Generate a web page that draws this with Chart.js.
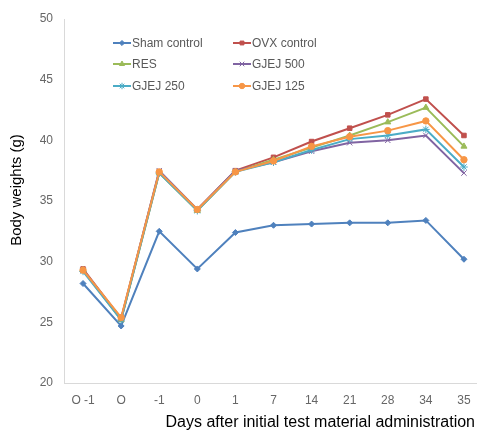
<!DOCTYPE html>
<html><head><meta charset="utf-8">
<script src="https://cdn.jsdelivr.net/npm/chart.js@4"></script>
<style>html,body{margin:0;padding:0;overflow:hidden;background:#fff}#wrap{width:488px;height:435px}</style>
</head><body><div id="wrap"><canvas id="c" width="488" height="435"></canvas></div>
<script>
const categories = ['O -1','O','-1','0','1','7','14','21','28','34','35'];
const shamControl = [28.2,24.7,32.5,29.4,32.4,33.0,33.1,33.2,33.2,33.4,30.2];
const ovxControl  = [29.4,25.3,37.4,34.3,37.5,38.6,39.9,41.0,42.1,43.4,40.4];
const resGroup    = [29.3,25.2,37.3,34.2,37.4,38.4,39.4,40.4,41.5,42.7,39.5];
const gjej500     = [29.3,25.3,37.5,34.3,37.5,38.2,39.1,39.8,40.0,40.4,37.3];
const gjej250     = [29.2,25.2,37.3,34.2,37.4,38.2,39.2,40.1,40.4,40.9,37.8];
const gjej125     = [29.3,25.4,37.4,34.3,37.4,38.3,39.5,40.3,40.8,41.6,38.4];
const yTicks = [20,25,30,35,40,45,50];
const seriesLabels = ['Sham control','OVX control','RES','GJEJ 500','GJEJ 250','GJEJ 125'];
const xTitle = 'Days after initial test material administration';
const yTitle = 'Body weights (g)';

const FONT = 'Liberation Sans';
const styles = [
  {color:'#4F81BD', ps:'rectRot', r:3, order:5},
  {color:'#C0504D', ps:'rect', r:3.2, order:4},
  {color:'#9BBB59', ps:'triangle', r:3.5, order:3},
  {color:'#8064A2', ps:'crossRot', r:3.8, order:2},
  {color:'#4BACC6', ps:'star', r:3.8, order:1},
  {color:'#F79646', ps:'circle', r:3.2, order:0}
];
const seriesData = [shamControl, ovxControl, resGroup, gjej500, gjej250, gjej125];

const datasets = seriesData.map((d,i)=>({
  label: seriesLabels[i], data: d,
  borderColor: styles[i].color, backgroundColor: styles[i].color,
  pointBackgroundColor: styles[i].color, pointBorderColor: styles[i].color,
  pointStyle: styles[i].ps, pointRadius: styles[i].r, pointBorderWidth: 1,
  borderWidth: 2, tension: 0, order: styles[i].order
}));

const customDraw = {
  id:'customDraw',
  afterDraw(chart){
    const ctx = chart.ctx;
    ctx.save();
    ctx.font = '12px "'+FONT+'"';
    ctx.textBaseline = 'middle';
    ctx.textAlign = 'left';
    const colX = [113, 233];
    const rowY = [43, 64, 86];
    chart.data.datasets.forEach((ds,i)=>{
      const x0 = colX[i%2], y = rowY[Math.floor(i/2)];
      ctx.strokeStyle = ds.borderColor; ctx.lineWidth = 2;
      ctx.beginPath(); ctx.moveTo(x0,y); ctx.lineTo(x0+18,y); ctx.stroke();
      ctx.fillStyle = ds.borderColor; ctx.lineWidth = 1;
      Chart.helpers.drawPoint(ctx,{pointStyle:ds.pointStyle,radius:ds.pointRadius*0.85,rotation:0,borderWidth:1},x0+9,y);
      ctx.fillStyle = '#595959';
      ctx.fillText(ds.label, x0+19, y+1);
    });
    ctx.restore();
    ctx.save();
    ctx.fillStyle = '#000';
    ctx.font = '16px "'+FONT+'"';
    ctx.textAlign = 'right'; ctx.textBaseline = 'middle';
    ctx.fillText(xTitle, 475, 423);
    ctx.translate(17, 190); ctx.rotate(-Math.PI/2);
    ctx.font = '15px "'+FONT+'"';
    ctx.textAlign = 'center';
    ctx.fillText(yTitle, 0, 0);
    ctx.restore();
  }
};

new Chart(document.getElementById('c'), {
  type:'line',
  data:{labels:categories, datasets},
  options:{
    responsive:false, animation:false, devicePixelRatio:1,
    layout:{padding:{top:19,left:0,right:0,bottom:0}},
    plugins:{legend:{display:false}, tooltip:{enabled:false}},
    scales:{
      x:{
        offset:true,
        grid:{display:false, drawTicks:false, offset:true},
        border:{display:true, color:'#d9d9d9', width:1},
        ticks:{color:'#666', font:{family:FONT,size:12}, padding:10, maxRotation:0, autoSkip:false},
        afterFit(s){ s.height = 52; }
      },
      y:{
        min:20, max:50,
        grid:{display:false, drawTicks:false},
        border:{display:true, color:'#d9d9d9', width:1},
        ticks:{color:'#666', font:{family:FONT,size:12}, padding:11},
        afterBuildTicks(s){ s.ticks = yTicks.map(v=>({value:v})); },
        afterFit(s){ s.width = 64; }
      }
    }
  },
  plugins:[customDraw]
});
</script></body></html>
